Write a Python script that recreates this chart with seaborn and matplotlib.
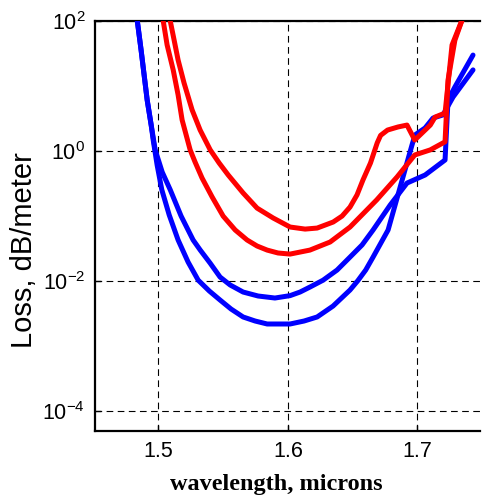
import numpy as np
import pandas as pd
import matplotlib
matplotlib.use("Agg")
import matplotlib.pyplot as plt
import seaborn as sns
from matplotlib.ticker import FixedLocator, LogFormatterSciNotation, NullLocator

# ---- data ----
upper_red_x = [1.5075, 1.509, 1.5121, 1.5152, 1.5198, 1.526, 1.5322, 1.540, 1.5469, 1.5539,
               1.5654, 1.5762, 1.5886, 1.6017, 1.6133, 1.6226, 1.635, 1.6419, 1.648, 1.6534,
               1.658, 1.6638, 1.669, 1.6716, 1.677, 1.6851, 1.692, 1.698, 1.7036, 1.710,
               1.7137, 1.7214, 1.7268, 1.7345, 1.7368]
upper_red_y = [146, 102, 50.5, 24.8, 11.0, 4.25, 2.08, 1.03, 0.647, 0.423,
               0.224, 0.131, 0.0923, 0.067, 0.0623, 0.0646, 0.080, 0.0989, 0.136, 0.209,
               0.355, 0.647, 1.32, 1.72, 2.08, 2.32, 2.48, 1.46, 1.87, 2.48,
               3.29, 3.8, 42.3, 102, 157]

lower_red_x = [1.502, 1.5036, 1.5067, 1.5114, 1.5152, 1.5183, 1.5245, 1.5283, 1.5337, 1.5415,
               1.550, 1.5593, 1.5685, 1.5762, 1.584, 1.5924, 1.6017, 1.617, 1.6326, 1.648,
               1.6686, 1.6843, 1.698, 1.710, 1.7214, 1.7237, 1.729, 1.7345, 1.7368]
lower_red_y = [146, 102, 42.4, 17.5, 7.2, 2.97, 1.03, 0.67, 0.38, 0.194,
               0.0986, 0.0603, 0.0423, 0.0342, 0.0296, 0.0267, 0.0257, 0.0296, 0.0394, 0.067,
               0.175, 0.394, 0.86, 1.03, 1.37, 12.2, 50, 102, 157]

upper_blue_x = [1.4812, 1.4836, 1.4866, 1.4913, 1.4944, 1.4975, 1.5029, 1.5091, 1.5175, 1.5268,
                1.5323, 1.5399, 1.5476, 1.5554, 1.5654, 1.577, 1.590, 1.6017, 1.6094, 1.6171,
                1.6272, 1.638, 1.648, 1.6573, 1.6658, 1.679, 1.692, 1.706, 1.7214, 1.7237,
                1.729, 1.743]
upper_blue_y = [175, 102, 35.4, 6.03, 2.48, 1.03, 0.47, 0.251, 0.0989, 0.0423,
                0.0296, 0.0187, 0.0114, 0.0086, 0.0067, 0.00582, 0.00542, 0.0059, 0.0067, 0.008,
                0.0102, 0.0146, 0.0231, 0.0355, 0.0603, 0.146, 0.318, 0.423, 0.72, 6.03,
                9.55, 29.6]

lower_blue_x = [1.4812, 1.4836, 1.4866, 1.4913, 1.4944, 1.496, 1.499, 1.5026, 1.5083, 1.5152,
                1.5229, 1.5307, 1.5393, 1.5476, 1.5561, 1.5654, 1.5747, 1.584, 1.6017, 1.6125,
                1.6226, 1.6349, 1.648, 1.654, 1.6601, 1.6658, 1.6774, 1.6959, 1.6982, 1.706,
                1.7121, 1.7198, 1.7276, 1.743]
lower_blue_y = [175, 102, 35.4, 6.03, 2.48, 1.44, 0.6, 0.251, 0.103, 0.0423,
                0.0194, 0.0102, 0.00695, 0.00505, 0.00367, 0.00277, 0.0024, 0.00216, 0.00216, 0.0024,
                0.00277, 0.00408, 0.0072, 0.01, 0.0146, 0.0231, 0.0603, 1.23, 1.75, 2.24,
                3.18, 3.55, 6.7, 17.5]

x_ticks = [1.5, 1.6, 1.7]
x_tick_labels = ["1.5", "1.6", "1.7"]
y_ticks = [1e-4, 1e-2, 1e0, 1e2]

curves = {
    "upper blue": (upper_blue_x, upper_blue_y),
    "lower blue": (lower_blue_x, lower_blue_y),
    "upper red": (upper_red_x, upper_red_y),
    "lower red": (lower_red_x, lower_red_y),
}
palette = {"upper blue": "#0000ff", "lower blue": "#0000ff",
           "upper red": "#ff0000", "lower red": "#ff0000"}

frames = []
for name, (xs, ys) in curves.items():
    frames.append(pd.DataFrame({"wavelength": xs, "loss": ys, "curve": name}))
df = pd.concat(frames, ignore_index=True)

# ---- style ----
sns.set_style("ticks")
plt.rcParams["font.family"] = ["Liberation Sans", "DejaVu Sans"]
plt.rcParams["mathtext.fontset"] = "custom"
plt.rcParams["mathtext.rm"] = "Liberation Sans"
plt.rcParams["mathtext.it"] = "Liberation Sans:italic"
plt.rcParams["mathtext.bf"] = "Liberation Sans:bold"

fig = plt.figure(figsize=(4.82, 4.95), dpi=100)
W, H = 482.0, 495.0
ax_left, ax_right, ax_top, ax_bottom = 95, 480, 20.7, 431
ax = fig.add_axes([ax_left / W, 1 - ax_bottom / H, (ax_right - ax_left) / W, (ax_bottom - ax_top) / H])

sns.lineplot(data=df, x="wavelength", y="loss", hue="curve", units="curve",
             estimator=None, sort=False, palette=palette, linewidth=3.6,
             legend=False, ax=ax, zorder=3)
for line in ax.get_lines():
    line.set_solid_joinstyle("round")
    line.set_solid_capstyle("round")

ax.set_yscale("log")
ax.set_xlim(1.451, 1.7484)
ax.set_ylim(4.88e-5, 100)

ax.xaxis.set_major_locator(FixedLocator(x_ticks))
ax.set_xticklabels(x_tick_labels)
ax.yaxis.set_major_locator(FixedLocator(y_ticks))
ax.yaxis.set_major_formatter(LogFormatterSciNotation())
ax.yaxis.set_minor_locator(NullLocator())
ax.xaxis.set_minor_locator(NullLocator())

ax.grid(True, which="major", color="black", linewidth=0.8, linestyle=(0, (6.0, 4.0)))
ax.set_axisbelow(True)

for s in ["left", "top", "bottom"]:
    ax.spines[s].set_linewidth(1.6)
    ax.spines[s].set_color("black")
ax.spines["right"].set_visible(False)

ax.tick_params(axis="both", which="major", direction="in", length=4, width=1,
               labelsize=15.5, pad=7, colors="black", right=False, top=False)

ax.set_ylabel("Loss, dB/meter", fontsize=21, color="black")
ax.yaxis.set_label_coords(-0.148, 0.441)
ax.set_xlabel("wavelength, microns", fontsize=17.5, fontweight="bold",
              family=["Liberation Serif", "DejaVu Serif"], color="black")
ax.xaxis.set_label_coords(0.471, -0.104)

fig.savefig("out.png", dpi=100)
